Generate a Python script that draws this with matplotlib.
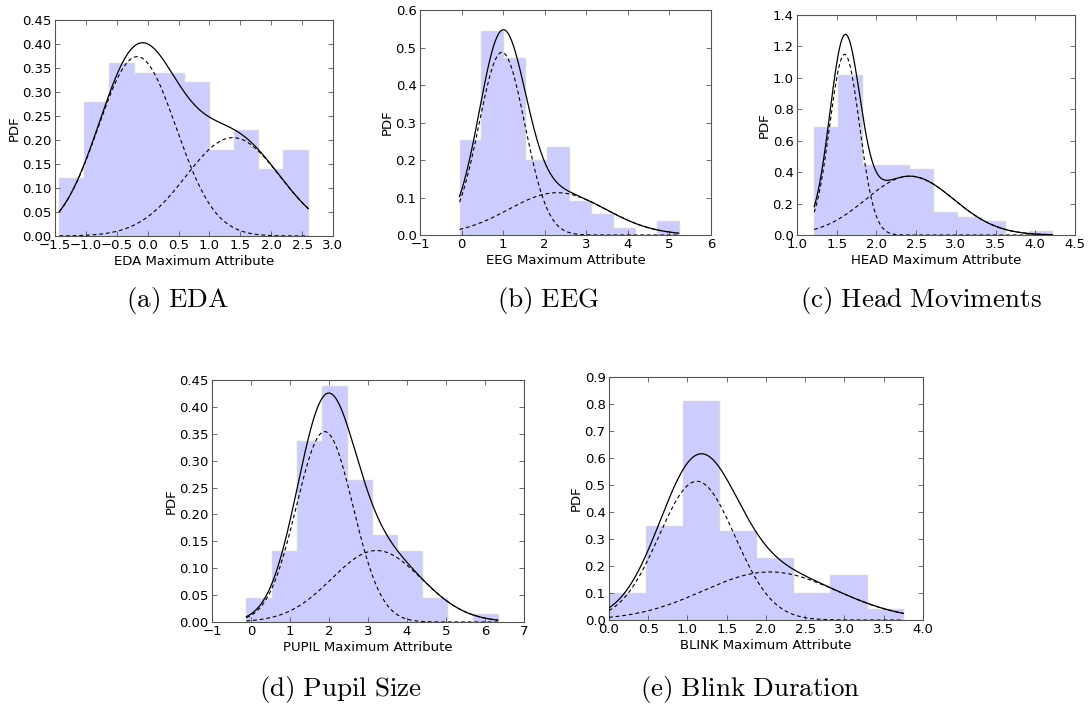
import numpy as np
import matplotlib
matplotlib.use("Agg")
import matplotlib.pyplot as plt
from matplotlib.ticker import MultipleLocator, FuncFormatter, FormatStrFormatter

plt.rcParams["font.family"] = ["DejaVu Sans"]
plt.rcParams["mathtext.fontset"] = "cm"

# ---- EDA ----
eda_range = (-1.43, 2.60)
eda_density = [0.12, 0.28, 0.36, 0.34, 0.34, 0.32, 0.18, 0.22, 0.14, 0.18]
eda_weights = [0.59, 0.392]
eda_means = [-0.17, 1.38]
eda_sds = [0.63, 0.763]

# ---- EEG ----
eeg_range = (-0.05, 5.22)
eeg_density = [0.253, 0.544, 0.471, 0.200, 0.236, 0.091, 0.055, 0.018, 0.0, 0.037]
eeg_weights = [0.673, 0.331]
eeg_means = [0.97, 2.30]
eeg_sds = [0.551, 1.17]

# ---- HEAD ----
head_range = (1.217, 4.215)
head_density = [0.685, 1.018, 0.445, 0.445, 0.418, 0.146, 0.112, 0.087, 0.0, 0.025]
head_weights = [0.542, 0.52]
head_means = [1.60, 2.42]
head_sds = [0.188, 0.554]

# ---- PUPIL ----
pupil_range = (-0.117, 6.325)
pupil_density = [0.045, 0.132, 0.336, 0.439, 0.264, 0.161, 0.132, 0.045, 0.0, 0.0155]
pupil_weights = [0.646, 0.383]
pupil_means = [1.89, 3.22]
pupil_sds = [0.728, 1.15]

# ---- BLINK ----
blink_range = (0.0, 3.75)
blink_density = [0.10, 0.35, 0.81, 0.33, 0.23, 0.10, 0.165, 0.04]
blink_weights = [0.622, 0.381]
blink_means = [1.12, 2.05]
blink_sds = [0.483, 0.854]

panels = [
    dict(name="EDA", rng=eda_range, dens=eda_density, w=eda_weights, mu=eda_means, sd=eda_sds,
         xlim=(-1.5, 3.0), ylim=(0, 0.45), xstep=0.5, ystep=0.05, yfmt="%.2f", xfmt="%.1f",
         rect=[0.0504, 0.6657, 0.2548, 0.306], caption=r"$\mathrm{(a)\ EDA}$", cap_xy=(0.163, 0.575)),
    dict(name="EEG", rng=eeg_range, dens=eeg_density, w=eeg_weights, mu=eeg_means, sd=eeg_sds,
         xlim=(-1, 6), ylim=(0, 0.6), xstep=1, ystep=0.1, yfmt="%.1f", xfmt="%d",
         rect=[0.385, 0.6671, 0.2667, 0.3187], caption=r"$\mathrm{(b)\ EEG}$", cap_xy=(0.503, 0.575)),
    dict(name="HEAD", rng=head_range, dens=head_density, w=head_weights, mu=head_means, sd=head_sds,
         xlim=(1.0, 4.5), ylim=(0, 1.4), xstep=0.5, ystep=0.2, yfmt="%.1f", xfmt="%.1f",
         rect=[0.7305, 0.6671, 0.2548, 0.3116], caption=r"$\mathrm{(c)\ Head\ Moviments}$", cap_xy=(0.844, 0.575)),
    dict(name="PUPIL", rng=pupil_range, dens=pupil_density, w=pupil_weights, mu=pupil_means, sd=pupil_sds,
         xlim=(-1, 7), ylim=(0, 0.45), xstep=1, ystep=0.05, yfmt="%.2f", xfmt="%d",
         rect=[0.1943, 0.119, 0.286, 0.3428], caption=r"$\mathrm{(d)\ Pupil\ Size}$", cap_xy=(0.312, 0.0227)),
    dict(name="BLINK", rng=blink_range, dens=blink_density, w=blink_weights, mu=blink_means, sd=blink_sds,
         xlim=(0.0, 4.0), ylim=(0, 0.9), xstep=0.5, ystep=0.1, yfmt="%.1f", xfmt="%.1f",
         rect=[0.5582, 0.1218, 0.2878, 0.3442], caption=r"$\mathrm{(e)\ Blink\ Duration}$", cap_xy=(0.688, 0.0227)),
]


def normal_pdf(x, mu, sd):
    return np.exp(-0.5 * ((x - mu) / sd) ** 2) / (sd * np.sqrt(2 * np.pi))


fig = plt.figure(figsize=(10.91, 7.06), dpi=100)
spine_color = "#555555"
dash = (0, (3.4, 2.6))

for p in panels:
    ax = fig.add_axes(p["rect"])
    edges = np.linspace(p["rng"][0], p["rng"][1], len(p["dens"]) + 1)
    ax.stairs(p["dens"], edges, fill=True, facecolor="#ccccff", edgecolor="#d6d6e0",
              linewidth=1.0, zorder=1)

    xs = np.linspace(p["rng"][0], p["rng"][1], 400)
    comps = [w * normal_pdf(xs, m, s) for w, m, s in zip(p["w"], p["mu"], p["sd"])]
    for c in comps:
        ax.plot(xs, c, color="black", linewidth=0.8, linestyle=dash, zorder=3)
    ax.plot(xs, np.sum(comps, axis=0), color="black", linewidth=0.9, zorder=4)

    ax.set_xlim(*p["xlim"])
    ax.set_ylim(*p["ylim"])
    ax.xaxis.set_major_locator(MultipleLocator(p["xstep"]))
    ax.yaxis.set_major_locator(MultipleLocator(p["ystep"]))
    ax.yaxis.set_major_formatter(FormatStrFormatter(p["yfmt"]))
    ax.xaxis.set_major_formatter(FuncFormatter(
        lambda v, pos, f=p["xfmt"]: (f % v).replace("-", "\u2212")))
    ax.tick_params(direction="in", top=True, right=True, length=3.5, width=0.6,
                   color=spine_color, labelsize=9.5, pad=2.5)
    for sp in ax.spines.values():
        sp.set_color(spine_color)
        sp.set_linewidth(0.8)
    ax.set_xlabel(f"{p['name']} Maximum Attribute", fontsize=9.5, labelpad=2)
    ax.set_ylabel("PDF", fontsize=9.5, labelpad=1)

    fig.text(p["cap_xy"][0], p["cap_xy"][1], p["caption"], fontsize=19.5,
             ha="center", va="center")

fig.savefig("out.png", dpi=100)
